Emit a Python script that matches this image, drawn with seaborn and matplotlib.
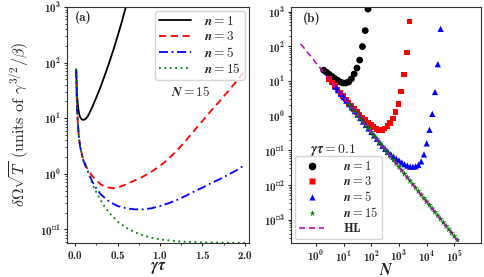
import numpy as np
import pandas as pd
import matplotlib
matplotlib.use("Agg")
import matplotlib.pyplot as plt
import seaborn as sns
from matplotlib.lines import Line2D
from matplotlib.ticker import LogLocator, NullLocator, MultipleLocator, NullFormatter, FixedLocator

# ---------------- data (log10 of values) ----------------
# panel (a): delta Omega sqrt(T) vs gamma*tau, N = 15
gt_n1 = [0.01, 0.02, 0.03, 0.04, 0.05, 0.06, 0.08, 0.10, 0.12, 0.15, 0.20, 0.25,
         0.30, 0.35, 0.40, 0.45, 0.50, 0.55, 0.60]
lg_n1 = [1.88, 1.43, 1.24, 1.12, 1.05, 1.01, 0.975, 0.97, 0.985, 1.04, 1.20, 1.38,
         1.57, 1.78, 2.00, 2.23, 2.48, 2.74, 3.02]

gt_n3 = [0.01, 0.02, 0.03, 0.04, 0.05, 0.06, 0.08, 0.10, 0.12, 0.15, 0.20, 0.25,
         0.30, 0.35, 0.40, 0.45, 0.50, 0.55, 0.60, 0.70, 0.80, 0.90, 1.00, 1.10,
         1.20, 1.30, 1.40, 1.50, 1.60, 1.70, 1.80, 1.90, 2.00]
lg_n3 = [1.88, 1.19, 0.90, 0.71, 0.57, 0.47, 0.34, 0.24, 0.16, 0.07, -0.04, -0.12,
         -0.19, -0.23, -0.25, -0.26, -0.25, -0.22, -0.19, -0.12, -0.05, 0.04, 0.14, 0.27,
         0.42, 0.59, 0.77, 0.95, 1.13, 1.30, 1.48, 1.66, 1.85]

gt_n5 = [0.01, 0.02, 0.03, 0.04, 0.05, 0.06, 0.08, 0.10, 0.12, 0.15, 0.20, 0.25,
         0.30, 0.40, 0.50, 0.60, 0.70, 0.80, 0.90, 1.00, 1.10, 1.20, 1.30, 1.40,
         1.50, 1.60, 1.70, 1.80, 1.90, 2.00]
lg_n5 = [1.88, 1.19, 0.90, 0.71, 0.56, 0.46, 0.32, 0.22, 0.14, 0.04, -0.14, -0.27,
         -0.37, -0.50, -0.58, -0.62, -0.64, -0.64, -0.62, -0.58, -0.53, -0.47, -0.40, -0.32,
         -0.25, -0.17, -0.10, -0.02, 0.06, 0.16]

gt_n15 = [0.01, 0.02, 0.03, 0.04, 0.05, 0.06, 0.08, 0.10, 0.12, 0.15, 0.20, 0.25,
          0.30, 0.35, 0.40, 0.50, 0.60, 0.70, 0.80, 0.90, 1.00, 1.20, 1.40, 1.60,
          1.80, 2.00]
lg_n15 = [1.88, 1.19, 0.90, 0.71, 0.56, 0.46, 0.32, 0.22, 0.14, 0.03, -0.18, -0.34,
          -0.48, -0.60, -0.70, -0.86, -0.97, -1.05, -1.11, -1.15, -1.18, -1.215, -1.23, -1.236,
          -1.24, -1.242]

# panel (b): vs N at gamma*tau = 0.1 (log10 N, log10 value)
lN_n1 = [0.28, 0.38, 0.48, 0.58, 0.68, 0.78, 0.88, 0.98, 1.08, 1.18, 1.28, 1.38,
         1.48, 1.58, 1.68, 1.78, 1.88]
lv_n1 = [1.31, 1.25, 1.19, 1.13, 1.07, 1.02, 0.97, 0.94, 0.94, 0.97, 1.06, 1.20,
         1.37, 1.60, 1.99, 2.45, 3.07]

lN_n3 = [0.48, 0.58, 0.68, 0.78, 0.88, 0.98, 1.08, 1.18, 1.28, 1.38, 1.48, 1.58,
         1.68, 1.78, 1.88, 1.98, 2.08, 2.18, 2.28, 2.38, 2.48, 2.58, 2.68, 2.78,
         2.88, 2.98, 3.08, 3.18, 3.28, 3.38]
lv_n3 = [1.05, 0.95, 0.85, 0.75, 0.65, 0.56, 0.46, 0.37, 0.28, 0.19, 0.10, 0.02,
         -0.05, -0.12, -0.20, -0.27, -0.33, -0.38, -0.41, -0.41, -0.37, -0.30, -0.21, -0.08,
         0.10, 0.34, 0.70, 1.18, 1.82, 2.71]

lN_n5 = [0.7, 0.8, 0.9, 1.0, 1.1, 1.2, 1.3, 1.4, 1.5, 1.6, 1.7, 1.8, 1.9, 2.0,
         2.1, 2.2, 2.3, 2.4, 2.5, 2.6, 2.7, 2.8, 2.9, 3.0, 3.1, 3.2, 3.3, 3.4,
         3.5, 3.6, 3.7, 3.8, 3.9, 4.0, 4.1, 4.2, 4.3, 4.4, 4.5]
lv_n5 = [0.83, 0.73, 0.63, 0.53, 0.43, 0.33, 0.23, 0.13, 0.03, -0.07, -0.17, -0.27,
         -0.37, -0.47, -0.57, -0.67, -0.77, -0.87, -0.96, -1.04, -1.11, -1.18, -1.24, -1.29,
         -1.35, -1.40, -1.44, -1.47, -1.47, -1.46, -1.42, -1.32, -1.12, -0.80, -0.41, 0.05,
         0.68, 1.48, 2.50]

lN_n15 = [1.2, 1.3, 1.4, 1.5, 1.6, 1.7, 1.8, 1.9, 2.0, 2.1, 2.2, 2.3, 2.4, 2.5,
          2.6, 2.7, 2.8, 2.9, 3.0, 3.1, 3.2, 3.3, 3.4, 3.5, 3.6, 3.7, 3.8, 3.9,
          4.0, 4.1, 4.2, 4.3, 4.4, 4.5, 4.6, 4.7, 4.8, 4.9, 5.0, 5.1]
lv_n15 = [0.32, 0.22, 0.12, 0.02, -0.08, -0.18, -0.28, -0.38, -0.48, -0.58, -0.68, -0.78,
          -0.88, -0.98, -1.08, -1.18, -1.28, -1.38, -1.48, -1.58, -1.68, -1.78, -1.88, -1.98,
          -2.08, -2.18, -2.28, -2.38, -2.48, -2.58, -2.68, -2.78, -2.88, -2.98, -3.08, -3.18,
          -3.28, -3.38, -3.48, -3.58]

lN_hl = [-0.55, 5.15]
lv_hl = [2.07, -3.63]

labels_n = [r"$\boldsymbol{n=1}$", r"$\boldsymbol{n=3}$", r"$\boldsymbol{n=5}$", r"$\boldsymbol{n=15}$"]

# ---------------- style ----------------
sns.set_style("ticks")
plt.rcParams["font.family"] = ["cmb10"]
plt.rcParams["mathtext.fontset"] = "cm"
plt.rcParams["axes.unicode_minus"] = False
plt.rcParams["axes.formatter.use_mathtext"] = True
plt.rcParams["xtick.labelsize"] = 8
plt.rcParams["ytick.labelsize"] = 8
plt.rcParams["xtick.major.size"] = 2.5
plt.rcParams["ytick.major.size"] = 2.5
plt.rcParams["xtick.minor.size"] = 1.5
plt.rcParams["ytick.minor.size"] = 1.5
plt.rcParams["xtick.major.pad"] = 2
plt.rcParams["ytick.major.pad"] = 2

fig = plt.figure(figsize=(4.85, 2.77), dpi=100)
axa = fig.add_axes([67/485, 34/277, 182/485, 236/277])
axb = fig.add_axes([291/485, 34/277, 190/485, 236/277])

# ---------------- panel (a) ----------------
lw = 1.3
ls3 = (0, (4, 2.5))
ls5 = (0, (5, 2, 1, 2))
ls15 = (0, (1, 2))
sns.lineplot(x=gt_n1, y=np.power(10.0, lg_n1), ax=axa, color="k", lw=lw, linestyle="-", sort=False)
sns.lineplot(x=gt_n3, y=np.power(10.0, lg_n3), ax=axa, color="r", lw=lw, linestyle=ls3, sort=False)
sns.lineplot(x=gt_n5, y=np.power(10.0, lg_n5), ax=axa, color="b", lw=lw, linestyle=ls5, sort=False)
sns.lineplot(x=gt_n15, y=np.power(10.0, lg_n15), ax=axa, color="g", lw=lw, linestyle=ls15, sort=False)
axa.set_yscale("log")
axa.set_xlim(-0.098, 2.05)
axa.set_ylim(10**-1.245, 1e3)
axa.xaxis.set_major_locator(FixedLocator([0.0, 0.5, 1.0, 1.5, 2.0]))
axa.xaxis.set_minor_locator(MultipleLocator(0.25))
axa.yaxis.set_major_locator(LogLocator(base=10, numticks=10))
axa.yaxis.set_minor_locator(LogLocator(base=10, subs=np.arange(2, 10), numticks=20))
axa.yaxis.set_minor_formatter(NullFormatter())
axa.set_xlabel(r"$\boldsymbol{\gamma\tau}$", fontsize=11.5, labelpad=-1)
axa.set_ylabel(r"$\delta\Omega\sqrt{T}$ (units of $\gamma^{3/2}/\beta$)", fontsize=11.5,
               family="cmr10")
axa.yaxis.set_label_coords(-0.2, 0.5)
hl_a = [Line2D([], [], color="k", lw=lw, ls="-"),
        Line2D([], [], color="r", lw=lw, ls=ls3),
        Line2D([], [], color="b", lw=lw, ls=ls5),
        Line2D([], [], color="g", lw=lw, ls=ls15)]
axa.legend(hl_a, labels_n, loc="upper right", fontsize=9.5, handlelength=2.4,
           borderaxespad=0.3, labelspacing=0.18, handletextpad=1.0, frameon=True,
           borderpad=0.3)
axa.text(0.045, 0.955, "(a)", transform=axa.transAxes, fontsize=9.5, va="center", ha="left")
axa.text(0.68, 0.64, r"$\boldsymbol{N=15}$", transform=axa.transAxes, fontsize=9.5,
         va="center", ha="center")

# ---------------- panel (b) ----------------
ms = dict(edgecolor="none", linewidth=0)
sns.scatterplot(x=np.power(10.0, lN_n1), y=np.power(10.0, lv_n1), ax=axb, color="k", marker="o", s=24, **ms)
sns.scatterplot(x=np.power(10.0, lN_n3), y=np.power(10.0, lv_n3), ax=axb, color="r", marker="s", s=16, **ms)
sns.scatterplot(x=np.power(10.0, lN_n5), y=np.power(10.0, lv_n5), ax=axb, color="b", marker="^", s=20, **ms)
sns.scatterplot(x=np.power(10.0, lN_n15), y=np.power(10.0, lv_n15), ax=axb, color="g", marker="*", s=24, **ms)
sns.lineplot(x=np.power(10.0, lN_hl), y=np.power(10.0, lv_hl), ax=axb, color="m", lw=1.1,
             linestyle=ls3, sort=False)
axb.set_xscale("log")
axb.set_yscale("log")
axb.set_xlim(10**-0.9, 10**5.96)
axb.set_ylim(10**-3.67, 10**3.13)
axb.xaxis.set_major_locator(FixedLocator([1e0, 1e1, 1e2, 1e3, 1e4, 1e5]))
axb.xaxis.set_minor_locator(NullLocator())
axb.yaxis.set_major_locator(FixedLocator([1e-3, 1e-2, 1e-1, 1e0, 1e1, 1e2, 1e3]))
axb.yaxis.set_minor_locator(LogLocator(base=10, subs=np.arange(2, 10), numticks=20))
axb.yaxis.set_minor_formatter(NullFormatter())
axb.set_xlabel(r"$\boldsymbol{N}$", fontsize=11.5, labelpad=-2)
axb.set_ylabel("")
hl_b = [Line2D([], [], color="k", marker="o", ls="none", ms=5.5, mec="none"),
        Line2D([], [], color="r", marker="s", ls="none", ms=4, mec="none"),
        Line2D([], [], color="b", marker="^", ls="none", ms=4.5, mec="none"),
        Line2D([], [], color="g", marker="*", ls="none", ms=5, mec="none"),
        Line2D([], [], color="m", lw=1.1, ls=ls3)]
axb.legend(hl_b, labels_n + [r"$\mathbf{HL}$"], loc="lower left", fontsize=9,
           handlelength=2.0, borderaxespad=0.3, labelspacing=0.15, handletextpad=1.5,
           frameon=True, borderpad=0.35)
axb.text(0.06, 0.953, "(b)", transform=axb.transAxes, fontsize=9.5, va="center", ha="left")
axb.text(0.10, 0.394, r"$\boldsymbol{\gamma\tau=0.1}$", transform=axb.transAxes, fontsize=10,
         va="center", ha="left")

for ax in (axa, axb):
    for s in ax.spines.values():
        s.set_linewidth(0.8)
        s.set_color("#333333")

fig.savefig("out.png", dpi=100)
